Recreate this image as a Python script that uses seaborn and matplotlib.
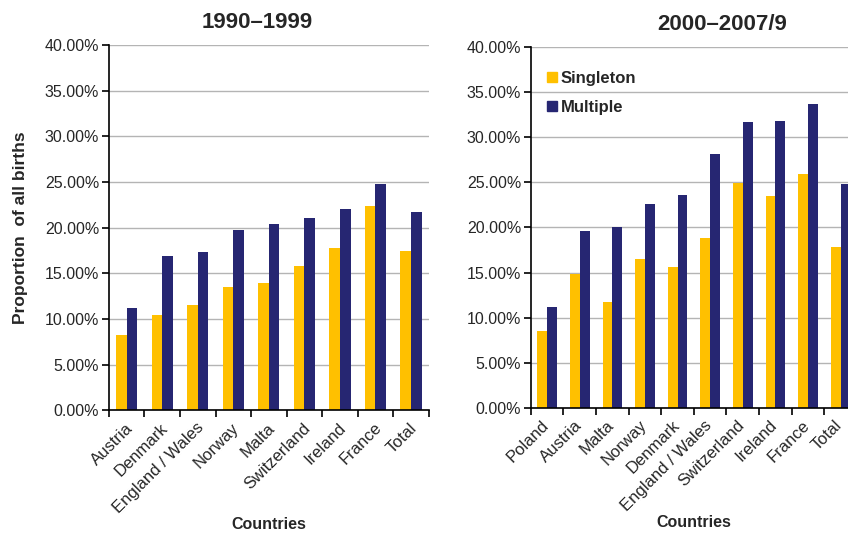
import numpy as np
import pandas as pd
import seaborn as sns
import matplotlib.pyplot as plt
from matplotlib.lines import Line2D
from matplotlib.ticker import PercentFormatter

# 1990-1999
countries_90 = ["Austria", "Denmark", "England / Wales", "Norway", "Malta",
                "Switzerland", "Ireland", "France", "Total"]
singleton_90 = [8.3, 10.4, 11.5, 13.5, 13.9, 15.8, 17.8, 22.4, 17.4]
multiple_90 = [11.25, 16.9, 17.3, 19.8, 20.4, 21.1, 22.1, 24.8, 21.7]

# 2000-2007/9
countries_00 = ["Poland", "Austria", "Malta", "Norway", "Denmark",
                "England / Wales", "Switzerland", "Ireland", "France", "Total"]
singleton_00 = [8.5, 14.8, 11.7, 16.5, 15.6, 18.8, 24.9, 23.5, 25.9, 17.8]
multiple_00 = [11.2, 19.6, 20.1, 22.6, 23.6, 28.1, 31.7, 31.8, 33.7, 24.8]

YELLOW = "#FFC000"
NAVY = "#262672"

sns.set_style("white")
plt.rcParams["font.family"] = ["Liberation Sans", "DejaVu Sans"]


def long_df(countries, single, multi):
    return pd.DataFrame({
        "country": countries * 2,
        "value": single + multi,
        "type": ["Singleton"] * len(countries) + ["Multiple"] * len(countries),
    })


fig = plt.figure(figsize=(8.48, 5.34), dpi=100)
ax1 = fig.add_axes([0.1285, 0.2313, 0.377, 0.6845])
ax2 = fig.add_axes([0.626, 0.236, 0.3844, 0.676])

# axes, data, categories, title, title x, xlabel y, label offset (categories)
panels = [
    (ax1, long_df(countries_90, singleton_90, multiple_90), countries_90,
     "1990\u20131999", 0.4625, -0.291, -0.05),
    (ax2, long_df(countries_00, singleton_00, multiple_00), countries_00,
     "2000\u20132007/9", 0.586, -0.296, -0.18),
]

for ax, df, cats, title, tx, ly, dx in panels:
    sns.barplot(data=df, x="country", y="value", hue="type", order=cats,
                hue_order=["Singleton", "Multiple"],
                palette=[YELLOW, NAVY], width=0.6, gap=0, ax=ax,
                edgecolor="none", saturation=1, legend=False)
    n = len(cats)
    ax.set_xlim(-0.5, n - 0.5)
    ax.set_ylim(0, 40)
    ax.set_yticks(np.arange(0, 41, 5))
    ax.yaxis.set_major_formatter(PercentFormatter(decimals=2))
    ax.grid(axis="y", color="#b4b4b4", linewidth=1)
    ax.set_axisbelow(True)
    for s in ["top", "right"]:
        ax.spines[s].set_visible(False)
    ax.spines["left"].set_color("black")
    ax.spines["bottom"].set_color("black")
    ax.spines["left"].set_linewidth(1.2)
    ax.spines["bottom"].set_linewidth(1.2)
    # labels sit on invisible ticks, boundary ticks drawn as minor ticks
    ax.set_xticks(np.arange(n) + dx)
    ax.set_xticklabels(cats, rotation=45, ha="right", rotation_mode="anchor",
                       fontsize=12)
    ax.set_xticks(np.arange(-0.5, n, 1), minor=True)
    ax.tick_params(axis="x", which="major", length=0, pad=7)
    ax.tick_params(axis="x", which="minor", length=5, width=1.2, color="black",
                   direction="out", bottom=True)
    ax.tick_params(axis="y", length=5, width=1.2, color="black", left=True,
                   labelsize=11.5, pad=2)
    ax.set_title(title, fontsize=16, fontweight="bold", x=tx, pad=12)
    ax.set_xlabel("Countries", fontsize=11.5, fontweight="bold")
    ax.xaxis.set_label_coords(0.5, ly)
    ax.set_ylabel("")

ax1.set_ylabel("Proportion  of all births", fontsize=12.5, fontweight="bold",
               labelpad=12)

handles = [Line2D([], [], marker="s", linestyle="none", color=YELLOW, markersize=7),
           Line2D([], [], marker="s", linestyle="none", color=NAVY, markersize=7)]
leg = ax2.legend(handles, ["Singleton", "Multiple"], loc="upper left",
                 bbox_to_anchor=(0.005, 0.975), frameon=False, handlelength=0.6,
                 handletextpad=0.2, labelspacing=0.85,
                 prop={"weight": "bold", "size": 12})

fig.savefig("out.png", dpi=100)
